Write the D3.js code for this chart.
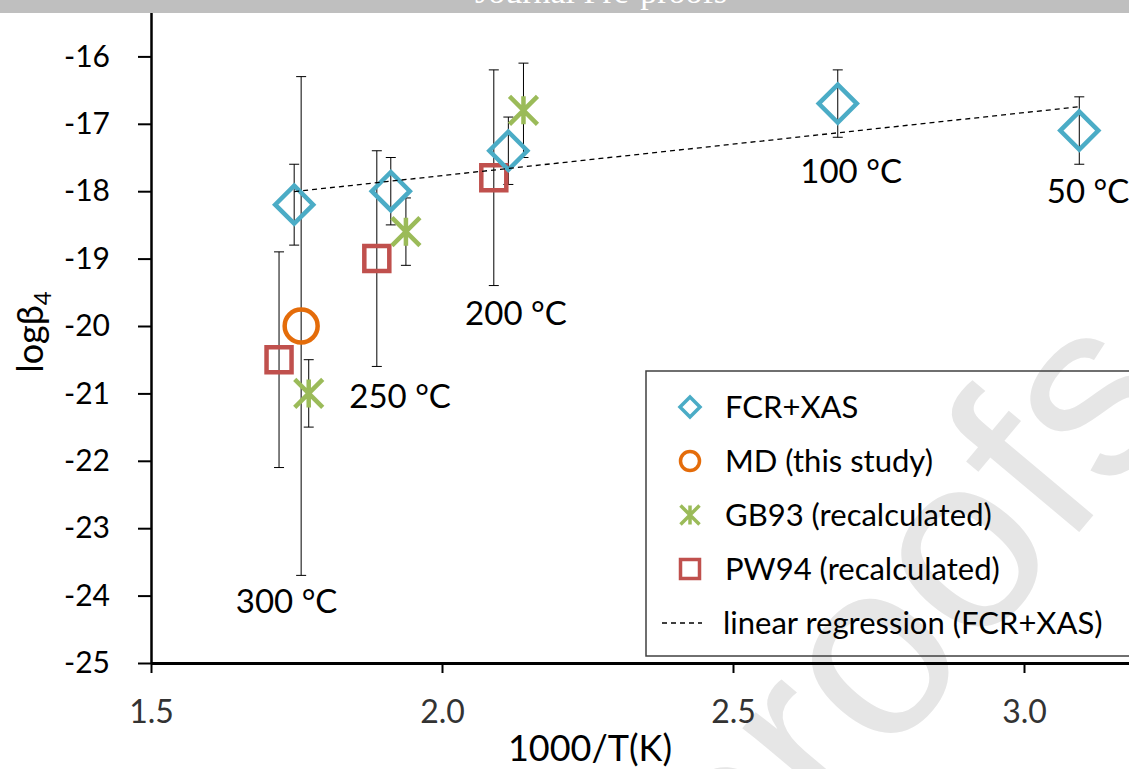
<!DOCTYPE html>
<html>
<head>
<meta charset="utf-8">
<script src="https://cdn.jsdelivr.net/npm/d3@7"></script>
<style>
  body { margin: 0; background: #fff; }
  svg { display: block; font-family: Lato, "Open Sans", sans-serif; }
</style>
</head>
<body>
<script>
// FCR+XAS
var fcrX = [1.746, 1.912, 2.114, 2.680, 3.095];
var fcrY = [-18.2, -18.0, -17.4, -16.7, -17.1];
var fcrErr = [0.6, 0.5, 0.5, 0.5, 0.5];

// MD (this study)
var mdX = [1.758];
var mdY = [-20.0];
var mdErr = [3.7];

// GB93 (recalculated)
var gbX = [1.771, 1.938, 2.140];
var gbY = [-21.0, -18.6, -16.8];
var gbErr = [0.5, 0.5, 0.7];

// PW94 (recalculated)
var pwX = [1.720, 1.888, 2.089];
var pwY = [-20.5, -19.0, -17.8];
var pwErr = [1.6, 1.6, 1.6];

var tempLabels = ["300 °C", "250 °C", "200 °C", "100 °C", "50 °C"];
var tempLabelX = [1.733, 1.928, 2.127, 2.703, 3.110];
var tempLabelY = [-24.26, -21.22, -19.99, -17.88, -18.18];

var xTicks = [1.5, 2.0, 2.5, 3.0, 3.5];
var yTicks = [-25, -24, -23, -22, -21, -20, -19, -18, -17, -16];
var legendNames = ["FCR+XAS", "MD (this study)", "GB93 (recalculated)",
                   "PW94 (recalculated)", "linear regression (FCR+XAS)"];

var W = 1129, H = 769;
var svg = d3.select('body').append('svg')
  .attr('width', W)
  .attr('height', H);

var x = d3.scaleLinear().domain([1.5, 3.5]).range([151, 151 + 2 * 582]);
var y = d3.scaleLinear().domain([-25, -15]).range([663, 663 - 10 * 67.4]);

// watermark
svg.append('text')
  .attr('transform', 'translate(1190,400) rotate(-50)')
  .attr('text-anchor', 'end')
  .style('font-family', '"Liberation Sans", Arial, sans-serif')
  .style('font-size', '250px')
  .style('fill', '#e6e6e6')
  .text('Journal Pre-proofs');

// shapes
function diamond(s) { return 'M0,' + (-s) + 'L' + s + ',0L0,' + s + 'L' + (-s) + ',0Z'; }
function square(s) { return 'M' + (-s) + ',' + (-s) + 'H' + s + 'V' + s + 'H' + (-s) + 'Z'; }
function star(s) {
  return 'M' + (-s) + ',' + (-s) + 'L' + s + ',' + s +
         'M' + s + ',' + (-s) + 'L' + (-s) + ',' + s +
         'M0,' + (-s) + 'L0,' + s;
}

var series = [
  { xs: pwX, ys: pwY, err: pwErr, color: '#C0504D', kind: 'square' },
  { xs: gbX, ys: gbY, err: gbErr, color: '#9BBB59', kind: 'star' },
  { xs: mdX, ys: mdY, err: mdErr, color: '#E46C0A', kind: 'circle' },
  { xs: fcrX, ys: fcrY, err: fcrErr, color: '#4BACC6', kind: 'diamond' }
];

// error bars
series.forEach(function(s) {
  var pts = s.xs.map(function(v, i) { return { x: v, y: s.ys[i], e: s.err[i] }; });
  var g = svg.append('g').style('stroke', '#000').style('stroke-width', 1);
  g.selectAll('line.v').data(pts).enter().append('line')
    .attr('x1', function(d) { return x(d.x); })
    .attr('x2', function(d) { return x(d.x); })
    .attr('y1', function(d) { return y(d.y + d.e); })
    .attr('y2', function(d) { return y(d.y - d.e); });
  [1, -1].forEach(function(sign) {
    g.selectAll('line.c' + sign).data(pts).enter().append('line')
      .attr('x1', function(d) { return x(d.x) - 5; })
      .attr('x2', function(d) { return x(d.x) + 5; })
      .attr('y1', function(d) { return y(d.y + sign * d.e); })
      .attr('y2', function(d) { return y(d.y + sign * d.e); });
  });
});

function drawMarker(sel, kind, color, big) {
  if (kind === 'circle') {
    sel.append('circle').attr('r', big ? 16.5 : 9.5)
      .style('fill', 'none').style('stroke', color).style('stroke-width', big ? 4.5 : 3.5);
    return;
  }
  var p = kind === 'diamond' ? diamond(big ? 19 : 10)
        : kind === 'square' ? square(big ? 12.5 : 9.5)
        : star(big ? 14 : 9.5);
  sel.append('path').attr('d', p)
    .style('fill', 'none').style('stroke', color)
    .style('stroke-width', big ? 4.5 : 3.5);
}

series.forEach(function(s) {
  s.xs.forEach(function(v, i) {
    var g = svg.append('g').attr('transform', 'translate(' + x(v) + ',' + y(s.ys[i]) + ')');
    drawMarker(g, s.kind, s.color, true);
  });
});

// linear regression of FCR+XAS
var mx = d3.mean(fcrX), my = d3.mean(fcrY);
var sxy = d3.sum(fcrX, function(v, i) { return (v - mx) * (fcrY[i] - my); });
var sxx = d3.sum(fcrX, function(v) { return (v - mx) * (v - mx); });
var slope = sxy / sxx, icpt = my - slope * mx;
var regX = d3.extent(fcrX);
svg.append('line')
  .attr('x1', x(regX[0])).attr('y1', y(icpt + slope * regX[0]))
  .attr('x2', x(regX[1])).attr('y2', y(icpt + slope * regX[1]))
  .style('stroke', '#000').style('stroke-width', 1.3)
  .style('stroke-dasharray', '5,4');

// temperature labels
svg.selectAll('text.temp').data(tempLabels).enter().append('text')
  .attr('class', 'temp')
  .attr('x', function(d, i) { return x(tempLabelX[i]); })
  .attr('y', function(d, i) { return y(tempLabelY[i]); })
  .attr('text-anchor', 'middle')
  .style('font-size', '33px')
  .style('fill', '#000')
  .text(function(d) { return d; });

// axes
var yAxis = svg.append('g')
  .attr('transform', 'translate(151,0)')
  .call(d3.axisLeft(y).tickValues(yTicks).tickSize(13).tickSizeOuter(0).tickPadding(28)
    .tickFormat(function(d) { return String(d); }));
yAxis.select('.domain').style('stroke', '#000').style('stroke-width', 2.5);
yAxis.selectAll('.tick line').style('stroke', '#000').style('stroke-width', 2);
yAxis.selectAll('.tick text').style('font-size', '30px').style('fill', '#000')
  .style('font-family', 'Lato, sans-serif');

var xAxis = svg.append('g')
  .attr('transform', 'translate(0,663)')
  .call(d3.axisBottom(x).tickValues(xTicks).tickSize(10).tickSizeOuter(0).tickPadding(27)
    .tickFormat(d3.format('.1f')));
xAxis.select('.domain').style('stroke', '#000').style('stroke-width', 3);
xAxis.selectAll('.tick line').style('stroke', '#000').style('stroke-width', 2);
xAxis.selectAll('.tick text').style('font-size', '32px').style('fill', '#333')
  .style('font-family', 'Lato, sans-serif');

// axis titles
svg.append('text')
  .attr('x', 590).attr('y', 761)
  .attr('text-anchor', 'middle')
  .style('font-size', '36px')
  .text('1000/T(K)');

var yt = svg.append('text')
  .attr('transform', 'translate(43,332) rotate(-90)')
  .attr('text-anchor', 'middle')
  .style('font-size', '36px');
yt.append('tspan').text('logβ');
yt.append('tspan').attr('dy', 8).style('font-size', '24px').text('4');

// legend
var lg = svg.append('g');
lg.append('rect')
  .attr('x', 646).attr('y', 371).attr('width', 520).attr('height', 285)
  .style('fill', 'none').style('stroke', '#404040').style('stroke-width', 1.5);
var kinds = ['diamond', 'circle', 'star', 'square', 'line'];
var colors = ['#4BACC6', '#E46C0A', '#9BBB59', '#C0504D', '#000'];
var rows = lg.selectAll('g.row').data(legendNames).enter().append('g')
  .attr('transform', function(d, i) { return 'translate(690,' + (407 + i * 54) + ')'; });
rows.each(function(d, i) {
  var r = d3.select(this);
  if (kinds[i] === 'line') {
    r.append('line').attr('x1', -28).attr('x2', 12).attr('y1', 0).attr('y2', 0)
      .style('stroke', '#000').style('stroke-width', 1.3).style('stroke-dasharray', '5,4');
  } else {
    drawMarker(r, kinds[i], colors[i], false);
  }
  r.append('text').attr('x', i === 4 ? 33 : 35).attr('y', 11)
    .style('font-size', '31px').text(d);
});

// top banner
svg.append('rect').attr('x', 0).attr('y', 0).attr('width', W).attr('height', 13)
  .style('fill', '#bfbfbf');
svg.append('text')
  .attr('x', 601).attr('y', 3)
  .attr('text-anchor', 'middle')
  .style('font-family', '"Liberation Serif", "Times New Roman", serif')
  .style('font-size', '34px')
  .style('fill', '#fff')
  .text('Journal Pre-proofs');
</script>
</body>
</html>
